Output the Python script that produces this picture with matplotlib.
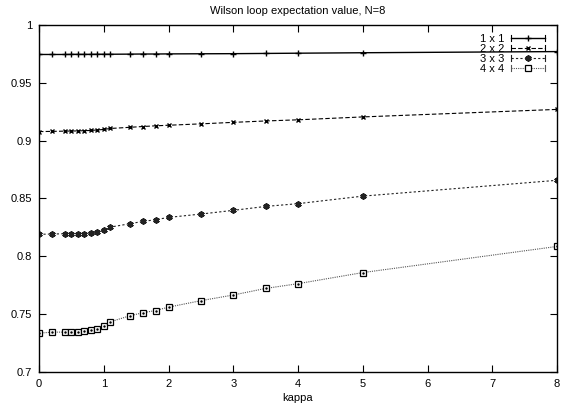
import matplotlib
matplotlib.use("Agg")
import matplotlib.pyplot as plt
from matplotlib.legend_handler import HandlerLine2D
from matplotlib.lines import Line2D

plt.rcParams['font.family'] = ['Liberation Sans', 'DejaVu Sans']

kappa = [0, 0.2, 0.4, 0.5, 0.6, 0.7, 0.8, 0.9, 1.0, 1.1,
         1.4, 1.6, 1.8, 2.0, 2.5, 3.0, 3.5, 4.0, 5.0, 8.0]

w1x1 = [0.9745, 0.9745, 0.9745, 0.9746, 0.9746, 0.9746, 0.9746, 0.9747, 0.9747, 0.9747,
        0.9748, 0.9749, 0.9749, 0.9750, 0.9751, 0.9752, 0.9754, 0.9756, 0.9760, 0.9770]
w2x2 = [0.9078, 0.9080, 0.9082, 0.9083, 0.9084, 0.9086, 0.9088, 0.9092, 0.9097, 0.9105,
        0.9115, 0.9122, 0.9128, 0.9133, 0.9145, 0.9158, 0.9170, 0.9180, 0.9205, 0.9270]
w3x3 = [0.8190, 0.8192, 0.8195, 0.8195, 0.8195, 0.8196, 0.8203, 0.8214, 0.8229, 0.8252,
        0.8281, 0.8301, 0.8316, 0.8336, 0.8365, 0.8397, 0.8431, 0.8455, 0.8520, 0.8657]
w4x4 = [0.7335, 0.7344, 0.7344, 0.7347, 0.7347, 0.7350, 0.7361, 0.7375, 0.7401, 0.7433,
        0.7485, 0.7511, 0.7531, 0.7560, 0.7616, 0.7665, 0.7722, 0.7763, 0.7859, 0.8085]

labels = ['1 x 1', '2 x 2', '3 x 3', '4 x 4']


# gnuplot-like key sample: line with little end caps
class CapHandler(HandlerLine2D):
    def create_artists(self, legend, orig_handle, xdescent, ydescent,
                       width, height, fontsize, trans):
        artists = super().create_artists(legend, orig_handle, xdescent, ydescent,
                                         width, height, fontsize, trans)
        ymid = height / 2.0 - ydescent
        for x in (-xdescent, width - xdescent):
            cap = Line2D([x, x], [ymid - 2.2, ymid + 2.2],
                         color=orig_handle.get_color(), lw=0.8)
            cap.set_transform(trans)
            artists.append(cap)
        return artists


fig = plt.figure(figsize=(5.61, 4.13), dpi=100)
ax = fig.add_axes([0.0695, 0.0995, 0.9235, 0.84])

l1, = ax.plot(kappa, w1x1, color='black', lw=1.0, ls='-', marker='+', ms=4.5, mew=1.0, label=labels[0])
l2, = ax.plot(kappa, w2x2, color='black', lw=0.8, ls=(0, (4, 2)), marker='x', ms=3.5, mew=1.0, label=labels[1])
l3, = ax.plot(kappa, w3x3, color='#222222', lw=0.8, ls=(0, (2, 2)), marker=(6, 2, 0), ms=4.5, mew=1.3,
              label=labels[2])
l4, = ax.plot(kappa, w4x4, color='#555555', lw=0.8, ls=(0, (1, 1)), marker='s', ms=4.2, mew=0.9,
              mfc='white', mec='black', label=labels[3])
ax.plot(kappa, w4x4, ls='none', marker='.', ms=1.5, color='black')

ax.set_xlim(0, 8)
ax.set_ylim(0.7, 1.0)
ax.set_xticks(range(9))
ax.set_yticks([0.7, 0.75, 0.8, 0.85, 0.9, 0.95, 1.0])
ax.set_yticklabels(['0.7', '0.75', '0.8', '0.85', '0.9', '0.95', '1'])
ax.tick_params(direction='in', top=True, right=True, length=5, width=0.8, labelsize=8, pad=5)
for s in ax.spines.values():
    s.set_linewidth(1.0)

ax.set_xlabel('kappa', fontsize=8, labelpad=3)
ax.set_title('Wilson loop expectation value, N=8', fontsize=8, pad=8)

ax.legend(handles=[l1, l2, l3, l4], loc='upper right', bbox_to_anchor=(0.977, 0.974),
          frameon=False, markerfirst=False, fontsize=8, borderpad=0, borderaxespad=0,
          handlelength=3.1, labelspacing=0.0, handletextpad=0.6,
          handler_map={Line2D: CapHandler()})

fig.savefig('out.png', dpi=100)
